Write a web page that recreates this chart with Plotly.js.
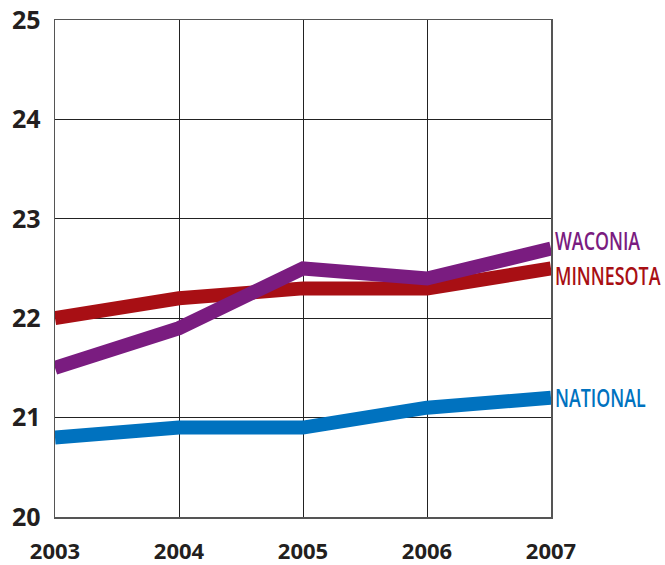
<!DOCTYPE html>
<html>
<head>
<meta charset="utf-8">
<script src="https://cdn.plot.ly/plotly-3.0.1.min.js"></script>
<style>html,body{margin:0;padding:0;background:#fff;}</style>
</head>
<body>
<div id="chart" style="width:665px;height:565px;"></div>
<script>
const years = [2003, 2004, 2005, 2006, 2007];
const waconia = [21.5, 21.9, 22.5, 22.4, 22.7];
const minnesota = [22.0, 22.2, 22.3, 22.3, 22.5];
const national = [20.8, 20.9, 20.9, 21.1, 21.2];
const seriesNames = ['WACONIA', 'MINNESOTA', 'NATIONAL'];
const labelY = [22.79, 22.43, 21.21];
const colors = ['#7a1c80', '#a80f14', '#0072bf'];
const yTicks = [20, 21, 22, 23, 24, 25];

const data = [
  {x: years, y: minnesota, name: seriesNames[1], mode: 'lines', line: {color: colors[1], width: 14}},
  {x: years, y: waconia, name: seriesNames[0], mode: 'lines', line: {color: colors[0], width: 14}},
  {x: years, y: national, name: seriesNames[2], mode: 'lines', line: {color: colors[2], width: 14}}
];

const labelFont = "'Open Sans', sans-serif";
const annotations = seriesNames.map((n, i) => ({
  x: years[years.length - 1], y: labelY[i], xref: 'x', yref: 'y',
  text: n, showarrow: false, xanchor: 'left', yanchor: 'middle', xshift: 2,
  font: {family: labelFont, size: 26, color: colors[i], weight: 600}
}));

const layout = {
  width: 665, height: 565,
  margin: {l: 55, r: 114, t: 20, b: 48},
  paper_bgcolor: '#fff', plot_bgcolor: '#fff',
  showlegend: false,
  xaxis: {
    range: [2003, 2007], tickvals: years, ticktext: years.map(String),
    showgrid: true, gridcolor: '#222', gridwidth: 1,
    showline: true, linecolor: '#555', linewidth: 1.5, mirror: true,
    zeroline: false, ticks: '', ticklabelstandoff: 14,
    tickfont: {family: "'Open Sans', sans-serif", size: 22, color: '#231f20', weight: 700}
  },
  yaxis: {
    range: [20, 25], tickvals: yTicks, ticktext: yTicks.map(String),
    showgrid: true, gridcolor: '#222', gridwidth: 1,
    showline: true, linecolor: '#555', linewidth: 1.5, mirror: true,
    zeroline: false, ticks: '', ticklabelstandoff: 8,
    tickfont: {family: "'Open Sans', sans-serif", size: 25, color: '#231f20', weight: 700}
  },
  annotations: annotations
};

function condenseLabels() {
  const texts = document.querySelectorAll('#chart .annotation-text');
  let maxW = 0;
  texts.forEach(t => { t.removeAttribute('transform'); maxW = Math.max(maxW, t.getBBox().width); });
  const s = maxW > 0 ? 106 / maxW : 1;
  texts.forEach(t => {
    const b = t.getBBox();
    t.setAttribute('transform', `translate(${b.x},0) scale(${s},1) translate(${-b.x},0)`);
  });
}

Plotly.newPlot('chart', data, layout, {displayModeBar: false, staticPlot: true}).then(condenseLabels);
</script>
</body>
</html>
